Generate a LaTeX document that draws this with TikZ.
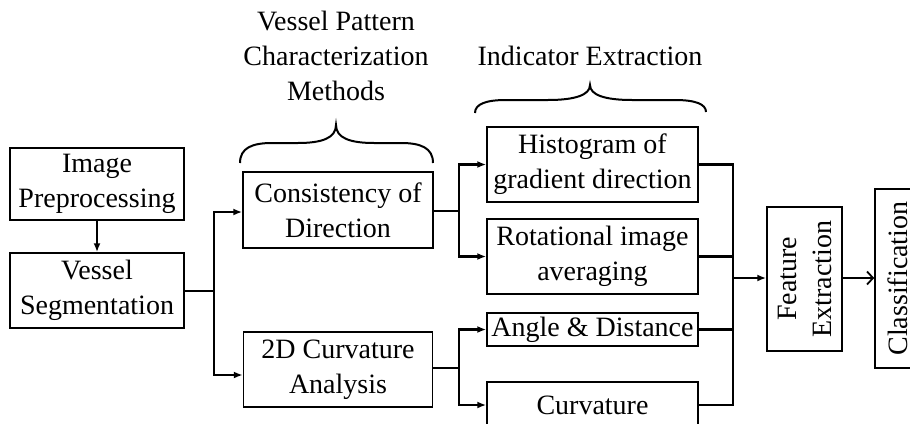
\documentclass[tikz,border=0pt]{standalone}
\usepackage{fontspec}
\setmainfont{Liberation Serif}
\usetikzlibrary{arrows.meta}
\begin{document}
\begin{tikzpicture}[x=1pt,y=-1pt,
  every node/.style={font=\fontsize{28}{35}\selectfont, inner sep=0pt, align=center},
  box/.style={draw, line width=1.5pt, rectangle},
  conn/.style={line width=2.2pt},
  arr/.style={conn, -{Latex[length=9pt,width=7pt]}},
  oarr/.style={conn, -{Straight Barb[length=6pt,width=13pt,line width=1.8pt]}},
  brace/.style={line width=2pt}]
\useasboundingbox (0,0) rectangle (910,423);
% boxes
\node[box, minimum width=174pt, minimum height=72pt] (pre) at (97,184) {Image\\Preprocessing};
\node[box, minimum width=174pt, minimum height=75pt] (seg) at (97,290.5) {Vessel\\Segmentation};
\node[box, minimum width=190pt, minimum height=76pt] (cons) at (338,210) {Consistency of\\Direction};
\node[box, minimum width=189pt, minimum height=75pt] (c2d) at (338,369.5) {2D Curvature\\Analysis};
\node[box, minimum width=211pt, minimum height=75pt] (hist) at (592.5,164.5) {Histogram of\\gradient direction};
\node[box, minimum width=211pt, minimum height=75pt] (rot) at (592.5,256.5) {Rotational image\\averaging};
\node[box, minimum width=211pt, minimum height=33pt] (ang) at (592.5,329.5) {Angle \& Distance};
\node[box, minimum width=211pt, minimum height=46pt] (curv) at (592.5,405) {Curvature};
\node[box, minimum width=75pt, minimum height=144pt] (feat) at (804.5,279) {};
\node[rotate=90] (featt) at (feat.center) {Feature\\Extraction};
\node[box, minimum width=46pt, minimum height=179pt] (cls) at (898,278.5) {};
\node[rotate=90] (clst) at (cls.center) {Classification};
% labels
\node (lab1) at (336,56) {Vessel Pattern\\Characterization\\Methods};
\node (lab2) at (590,56) {Indicator Extraction};
% braces
\draw[brace] (240,163) .. controls (240,148) and (252,143) .. (272,143) -- (298,143)
  .. controls (322,143) and (336,138) .. (336,125)
  .. controls (336,138) and (350,143) .. (374,143) -- (401,143)
  .. controls (421,143) and (433,148) .. (433,163);
\draw[brace] (475,113) .. controls (475,104) and (486,100) .. (506,100) -- (548,100)
  .. controls (575,100) and (590,95) .. (590,85)
  .. controls (590,95) and (605,100) .. (632,100) -- (675,100)
  .. controls (695,100) and (706,104) .. (706,112);
% connectors
\coordinate (j1) at (214,291);
\coordinate (j2) at (459,211);
\coordinate (j3) at (459,368);
\coordinate (j4) at (733,278);
\draw[arr] (pre) -- (seg);
\draw[conn] (seg.east |- j1) -- (j1);
\draw[arr] (j1) |- (cons.west |- 0,212);
\draw[arr] (j1) |- (c2d.west |- 0,375);
\draw[conn] (cons.east |- j2) -- (j2);
\draw[arr] (j2) |- (hist.west);
\draw[arr] (j2) |- (rot.west);
\draw[conn] (c2d.east |- j3) -- (j3);
\draw[arr] (j3) |- (ang.west);
\draw[arr] (j3) |- (curv.west);
\draw[conn] (hist.east) -| (j4);
\draw[conn] (curv.east) -| (j4);
\draw[conn] (rot.east) -- (rot.east -| j4);
\draw[conn] (ang.east) -- (ang.east -| j4);
\draw[arr] (j4) -- (feat.west |- j4);
\draw[oarr] (feat.east |- j4) -- (cls.west |- j4);
\end{tikzpicture}
\end{document}
